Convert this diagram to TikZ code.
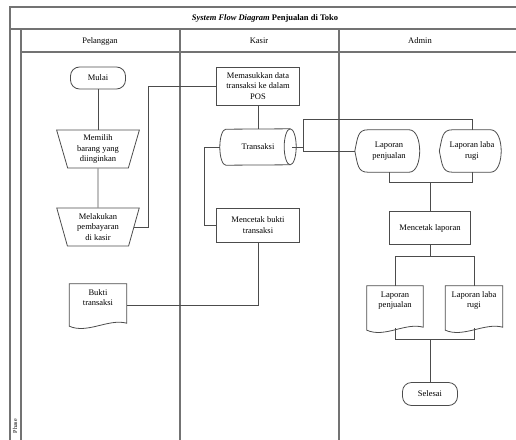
\documentclass[tikz,border=0pt]{standalone}
\usepackage{fontspec}
\setmainfont{Liberation Serif}
\usetikzlibrary{shapes.geometric,calc}

\newcommand{\docshape}[1]{%
  \draw[shape line] (#1.north west) -- (#1.north east) -- ([yshift=3pt]#1.south east)
    .. controls ([shift={(-18pt,8pt)}]#1.south east) and ([shift={(18pt,-8pt)}]#1.south west) .. (#1.south west) -- cycle;}
\newcommand{\dispshape}[1]{%
  \draw[shape line] (#1.west) .. controls ([shift={(3pt,14pt)}]#1.west) and ([shift={(3pt,0pt)}]#1.north west) .. ([xshift=13pt]#1.north west)
    -- ([xshift=-14pt]#1.north east) .. controls (#1.north east) and (#1.south east) .. ([xshift=-14pt]#1.south east)
    -- ([xshift=13pt]#1.south west) .. controls ([shift={(3pt,0pt)}]#1.south west) and ([shift={(3pt,-14pt)}]#1.west) .. (#1.west);}
\newcommand{\storeshape}[1]{%
  \draw[shape line] ([xshift=-6pt]#1.north east) arc[start angle=90,end angle=-90,x radius=6pt,y radius=18pt]
    -- ([xshift=6pt]#1.south west) arc[start angle=270,end angle=90,x radius=6pt,y radius=18pt] -- cycle;
  \draw[shape line] ([xshift=-6pt]#1.north east) arc[start angle=90,end angle=270,x radius=6pt,y radius=18pt];}

\begin{document}
\begin{tikzpicture}[x=1pt,y=-1pt,
  font=\fontsize{8.5}{10.5}\selectfont,
  lane/.style={draw=black!55,line width=1.2pt},
  shape line/.style={draw=black!70,line width=0.8pt},
  flow/.style={draw=black!70,line width=0.8pt},
  term node/.style={shape line,rectangle,rounded corners=9pt,minimum width=55,minimum height=22},
  proc node/.style={shape line,rectangle,minimum width=83,minimum height=34,align=center},
  manual node/.style={shape line,trapezium,trapezium stretches=true,shape border rotate=180,
    trapezium left angle=76,trapezium right angle=76,minimum width=83,minimum height=38,align=center},
  store node/.style={rectangle,minimum width=76,minimum height=36},
  doc node/.style={rectangle,minimum width=57,minimum height=42,align=center},
  disp node/.style={rectangle,minimum width=68,minimum height=42,align=center}]
  \useasboundingbox (0,0) rectangle (516,439);

  \draw[lane] (10,445) -- (10,7) -- (530,7);
  \draw[lane] (10,29) -- (530,29);
  \draw[lane] (21,52) -- (530,52);
  \draw[lane] (21,29) -- (21,445);
  \draw[lane] (180,29) -- (180,445);
  \draw[lane] (339,29) -- (339,445);
  \node (title) at (265,18) {\textbf{\textit{System Flow Diagram} Penjualan di Toko}};
  \node (h1) at (100,41) {Pelanggan};
  \node (h2) at (259,41) {Kasir};
  \node (h3) at (420,41) {Admin};
  \node[rotate=90,font=\fontsize{6}{7}\selectfont] (phase) at (15,426) {Phase};

  \node[term node] (mulai) at (98,78) {Mulai};
  \node[manual node] (pilih) at (98,149) {Memilih\\barang yang\\diinginkan};
  \node[manual node] (bayar) at (98,227) {Melakukan\\pembayaran\\di kasir};
  \node[doc node] (bukti) at (98,305) {Bukti\\transaksi\\[4pt]};
  \docshape{bukti}

  \node[proc node,minimum height=38] (masuk) at (258,86) {Memasukkan data\\transaksi ke dalam\\POS};
  \node[store node] (trans) at (258,147) {Transaksi};
  \storeshape{trans}
  \node[proc node] (cetak) at (258,225) {Mencetak bukti\\transaksi};

  \node[disp node] (lapA) at (389,151) {Laporan\\penjualan};
  \node[disp node,minimum width=65] (lapB) at (472,151) {Laporan laba\\rugi};
  \dispshape{lapA}
  \dispshape{lapB}
  \node[proc node,minimum width=81,minimum height=33] (cetakLap) at (430,228) {Mencetak laporan};
  \node[doc node,minimum width=56,minimum height=44] (docA) at (395,308) {Laporan\\penjualan\\[6pt]};
  \node[doc node,minimum width=57,minimum height=44] (docB) at (474,308) {Laporan laba\\rugi\\[6pt]};
  \docshape{docA}
  \docshape{docB}
  \node[term node,minimum height=23] (selesai) at (430,394) {Selesai};

  \path[flow] (mulai) edge (pilih)
    (pilih) edge (bayar);
  \draw[flow] (bayar.east) -- ++(14pt,0) |- (masuk.west);
  \draw[flow] (masuk) -- (trans);
  \draw[flow] (trans.west) -- ++(-15pt,0) |- (cetak.west);
  \draw[flow] (cetak.south) |- (bukti.east);
  \draw[flow] ([xshift=-4pt]trans.east) -- ++(11pt,0) coordinate (j1) |- (lapA.west);
  \draw[flow] (j1) |- ([yshift=10pt]lapB.north) -- (lapB.north);
  \draw[flow] (lapA.south) -- ++(0,-10pt) coordinate (m1) -| (lapB.south);
  \draw[flow] (cetakLap.north) -- (cetakLap.north |- m1);
  \draw[flow] (cetakLap.south) -- ++(0,-11pt) coordinate (m2);
  \draw[flow] (docA.north) |- (m2) -| (docB.north);
  \draw[flow] ([yshift=2pt]docA.south) -- ++(0,-11pt) coordinate (m3) -| ([yshift=2pt]docB.south);
  \draw[flow] (selesai.north) -- (selesai.north |- m3);
\end{tikzpicture}
\end{document}
